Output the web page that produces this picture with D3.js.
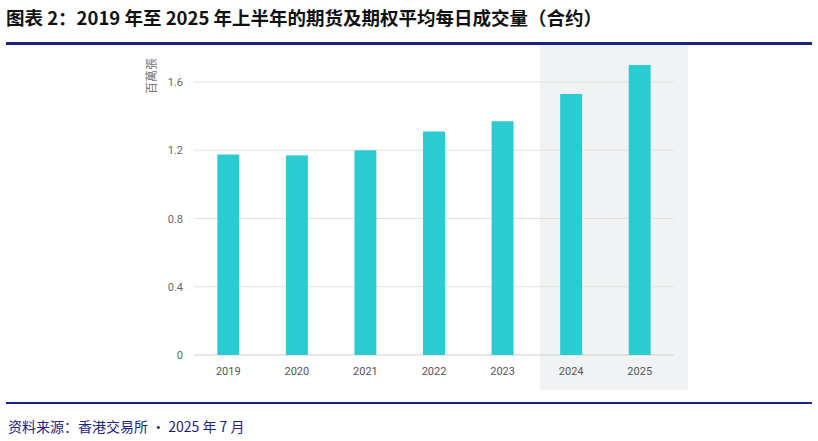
<!DOCTYPE html>
<html><head><meta charset="utf-8">
<script src="https://cdn.jsdelivr.net/npm/d3@7"></script>
<style>body{margin:0;background:#fff}</style>
</head><body>
<svg id="chart" width="818" height="441"></svg>
<script>
var years = ["2019","2020","2021","2022","2023","2024","2025"];
var volumes = [1.175, 1.17, 1.2, 1.31, 1.37, 1.53, 1.70];
var yTicks = [0, 0.4, 0.8, 1.2, 1.6];

var svg = d3.select("#chart");

// title + rules
svg.append("text").attr("x", 6).attr("y", 25)
  .style("font-family", "'Noto Sans CJK SC'").style("font-weight", "bold").style("font-size", "18.5px")
  .attr("fill", "#111").text("图表 2：2019 年至 2025 年上半年的期货及期权平均每日成交量（合约）");
svg.append("rect").attr("x", 6).attr("y", 42).attr("width", 806).attr("height", 3).attr("fill", "#1a237e");
svg.append("rect").attr("x", 6).attr("y", 402).attr("width", 806).attr("height", 2).attr("fill", "#1a237e");
svg.append("text").attr("x", 8).attr("y", 432)
  .style("font-family", "'Noto Sans CJK SC'").style("font-size", "14px")
  .attr("fill", "#1a237e").text("资料来源：香港交易所 • 2025 年 7 月");

var x = d3.scaleBand().domain(years).range([194, 674]).paddingInner(0.68).paddingOuter(0.34);
var y = d3.scaleLinear().domain([0, 1.6]).range([355, 82]);

// shaded background for 2024-2025
svg.append("rect").attr("x", x("2024") - 20).attr("y", 45)
  .attr("width", 688 - (x("2024") - 20)).attr("height", 345).attr("fill", "#f0f2f3");

var g = svg.append("g");
g.selectAll("line.grid").data(yTicks).enter().append("line")
  .attr("x1", 194).attr("x2", 674)
  .attr("y1", function(d){ return y(d); }).attr("y2", function(d){ return y(d); })
  .attr("stroke", function(d){ return d === 0 ? "#cfcfcf" : "#e2e2e2"; }).attr("stroke-width", 1);

g.selectAll("text.ytick").data(yTicks).enter().append("text")
  .attr("x", 183).attr("y", function(d){ return y(d) + 4; })
  .attr("text-anchor", "end").attr("fill", "#666")
  .style("font-family", "Roboto").style("font-size", "11px")
  .text(function(d){ return d === 0 ? "0" : d.toFixed(1); });

g.selectAll("rect.bar").data(volumes).enter().append("rect")
  .attr("x", function(d, i){ return x(years[i]); })
  .attr("width", x.bandwidth())
  .attr("y", function(d){ return y(d); })
  .attr("height", function(d){ return y(0) - y(d); })
  .attr("fill", "#2ccbd2");

g.selectAll("text.xtick").data(years).enter().append("text")
  .attr("x", function(d){ return x(d) + x.bandwidth() / 2; }).attr("y", 375)
  .attr("text-anchor", "middle").attr("fill", "#555")
  .style("font-family", "Roboto").style("font-size", "11px").text(function(d){ return d; });

svg.append("text").attr("transform", "translate(156,76) rotate(-90)")
  .attr("text-anchor", "middle").attr("fill", "#777")
  .style("font-family", "'Noto Sans CJK TC'").style("font-size", "12px").text("百萬張");
</script>
</body></html>
